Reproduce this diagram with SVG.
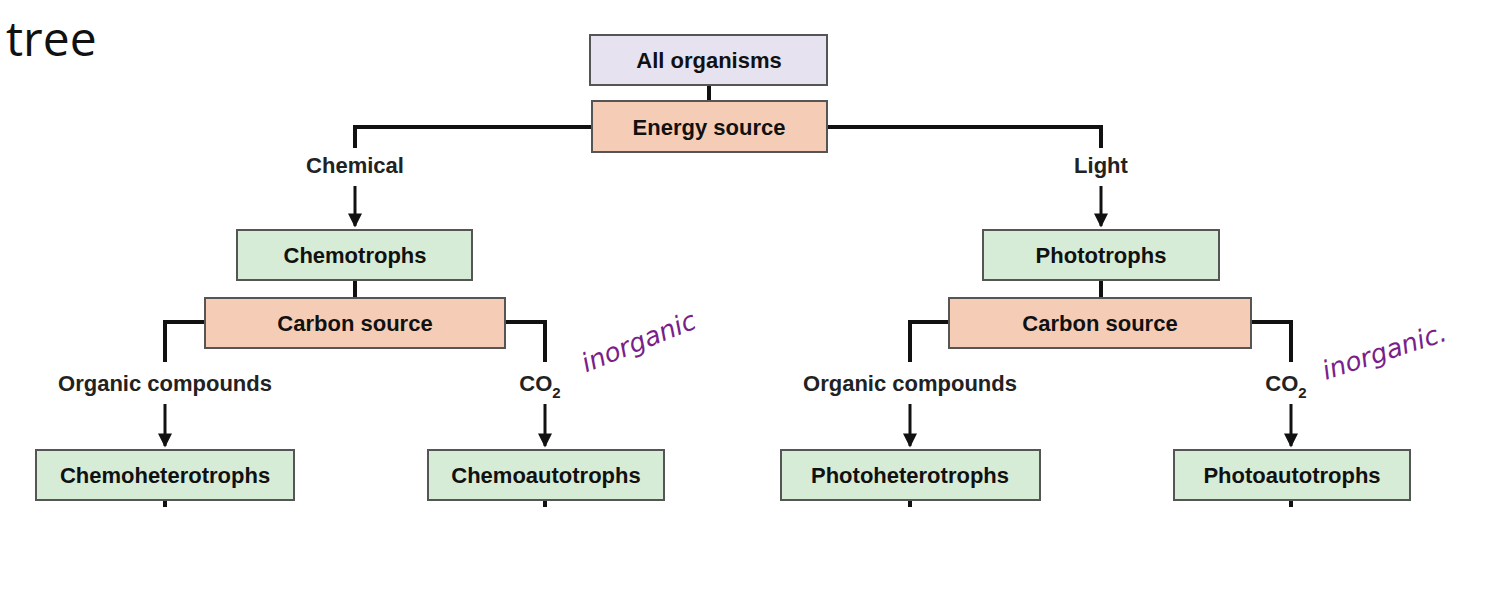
<svg xmlns="http://www.w3.org/2000/svg" width="1495" height="595" viewBox="0 0 1495 595">
<defs>
<marker id="ah" viewBox="0 0 10 10" refX="9" refY="5" markerWidth="20" markerHeight="14" markerUnits="userSpaceOnUse" orient="auto"><path d="M0,0 L10,5 L0,10 z" fill="#111"/></marker>
</defs>
<style>
.b{stroke:#555;stroke-width:2}
.p{fill:#e6e2f0}.o{fill:#f5cdb6}.g{fill:#d6ecd6}
text{font-family:"Liberation Sans",Arial,sans-serif;fill:#111;font-size:22px;text-anchor:middle}
.t{font-weight:bold}
.l{font-weight:bold;fill:#222}
.c{stroke:#111;stroke-width:4;fill:none}
.a{stroke:#111;stroke-width:3;fill:none;marker-end:url(#ah)}
.h{font-family:"Comic Sans MS","DejaVu Sans",sans-serif;fill:#7a1f8a;font-size:26px;font-style:italic}
</style>
<rect width="1495" height="595" fill="#fff"/>
<text x="6" y="56" style="font-family:'Open Sans',sans-serif;font-size:48px;text-anchor:start">tree</text>
<g id="connectors">
<path class="c" d="M709,85V101 M592,127H355V148 M827,127H1101V148"/>
<path class="a" d="M355,186V226"/>
<path class="a" d="M1101,186V226"/>
<path class="c" d="M355,280V298 M205,322H165V362 M505,322H545V362"/>
<path class="c" d="M1101,280V298 M949,322H910V362 M1251,322H1291V362"/>
<path class="a" d="M165,404V446"/>
<path class="a" d="M545,404V446"/>
<path class="a" d="M910,404V446"/>
<path class="a" d="M1291,404V446"/>
<path class="c" d="M165,500V507 M545,500V507 M910,500V507 M1291,500V507"/>
</g>
<g id="all"><rect class="b p" x="590" y="35" width="237" height="50"/><text class="t" x="709" y="68">All organisms</text></g>
<g id="energy"><rect class="b o" x="592" y="101" width="235" height="51"/><text class="t" x="709" y="135">Energy source</text></g>
<text class="l" x="355" y="173">Chemical</text>
<text class="l" x="1101" y="173">Light</text>
<g id="chemo"><rect class="b g" x="237" y="230" width="235" height="50"/><text class="t" x="355" y="263">Chemotrophs</text></g>
<g id="photo"><rect class="b g" x="983" y="230" width="236" height="50"/><text class="t" x="1101" y="263">Phototrophs</text></g>
<g id="carbon1"><rect class="b o" x="205" y="298" width="300" height="50"/><text class="t" x="355" y="331">Carbon source</text></g>
<g id="carbon2"><rect class="b o" x="949" y="298" width="302" height="50"/><text class="t" x="1100" y="331">Carbon source</text></g>
<text class="l" x="165" y="391">Organic compounds</text>
<text class="l" x="910" y="391">Organic compounds</text>
<text class="l" x="540" y="391">CO<tspan font-size="15" dy="7">2</tspan></text>
<text class="l" x="1286" y="391">CO<tspan font-size="15" dy="7">2</tspan></text>
<g id="chemohet"><rect class="b g" x="36" y="450" width="258" height="50"/><text class="t" x="165" y="483">Chemoheterotrophs</text></g>
<g id="chemoaut"><rect class="b g" x="428" y="450" width="236" height="50"/><text class="t" x="546" y="483">Chemoautotrophs</text></g>
<g id="photohet"><rect class="b g" x="781" y="450" width="259" height="50"/><text class="t" x="910" y="483">Photoheterotrophs</text></g>
<g id="photoaut"><rect class="b g" x="1174" y="450" width="236" height="50"/><text class="t" x="1292" y="483">Photoautotrophs</text></g>
<text class="h" x="642" y="350" transform="rotate(-22 642 350)">inorganic</text>
<text class="h" x="1387" y="360" transform="rotate(-18 1387 360)">inorganic.</text>
</svg>
